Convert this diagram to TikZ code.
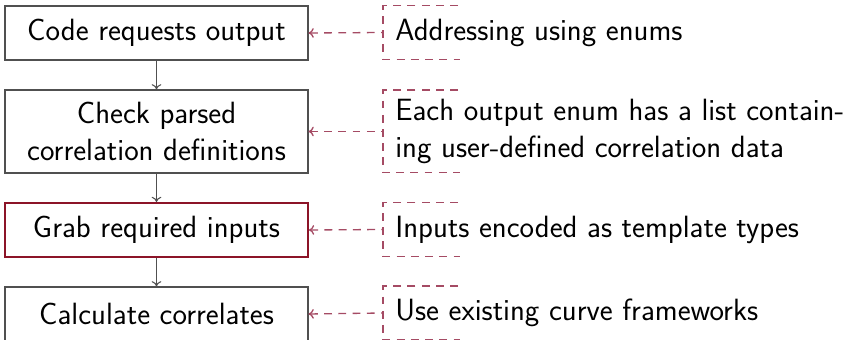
\documentclass[tikz,border=0pt]{standalone}
\usepackage{fontspec}
\usetikzlibrary{arrows.meta,calc}
\definecolor{boxgray}{RGB}{80,80,80}
\definecolor{hilite}{RGB}{140,20,40}
\definecolor{notecol}{RGB}{165,75,100}
\begin{document}
\begin{tikzpicture}[x=0.02cm,y=-0.02cm,
  font=\sffamily\fontsize{17.5}{21}\selectfont,
  stepbox/.style={draw=boxgray, line width=0.65pt, minimum width=6.06cm,
    align=center, inner sep=0pt},
  keybox/.style={stepbox, draw=hilite, line width=1.1pt},
  flow/.style={draw=boxgray, line width=0.6pt, -{To[length=3pt,width=5.5pt]}},
  note/.style={anchor=west, align=left, inner ysep=0pt, inner xsep=0.24cm},
  notebracket/.style={draw=notecol, line width=0.75pt, dash pattern=on 4.5pt off 3.6pt},
  link/.style={notebracket, {To[length=3pt,width=5.5pt]}-}
]
\useasboundingbox (0,0) rectangle (850,340);
\clip (0,0) rectangle (850,340);

% process steps
\node[stepbox, minimum height=1.08cm] (s1) at (156.5,33) {Code requests output};
\node[stepbox, minimum height=1.66cm] (s2) at (156.5,131.5) {Check parsed\\correlation definitions};
\node[keybox, minimum height=1.08cm] (s3) at (156.5,230) {Grab required inputs};
\node[stepbox, minimum height=1.08cm] (s4) at (156.5,314) {Calculate correlates};

\draw[flow] (s1) -- (s2);
\draw[flow] (s2) -- (s3);
\draw[flow] (s3) -- (s4);

% side notes
\node[note, minimum height=1.06cm] (n1) at (383,32.5) {Addressing using enums};
\node[note, minimum height=1.64cm] (n2) at (383,131.5) {Each output enum has a list contain-\\ing user-defined correlation data};
\node[note, minimum height=1.06cm] (n3) at (383,229.5) {Inputs encoded as template types};
\node[note, minimum height=1.06cm] (n4) at (383,313) {Use existing curve frameworks};

\foreach \n in {n1,n2,n3,n4}{
  \draw[notebracket] ($(\n.north west)+(75,0)$) -- (\n.north west)
    -- (\n.south west) -- ($(\n.south west)+(77,0)$);
}

\draw[link] (s1.east) -- (n1.west);
\draw[link] (s2.east) -- (n2.west);
\draw[link] (s3.east) -- (n3.west);
\draw[link] (s4.east) -- (n4.west);
\end{tikzpicture}
\end{document}
